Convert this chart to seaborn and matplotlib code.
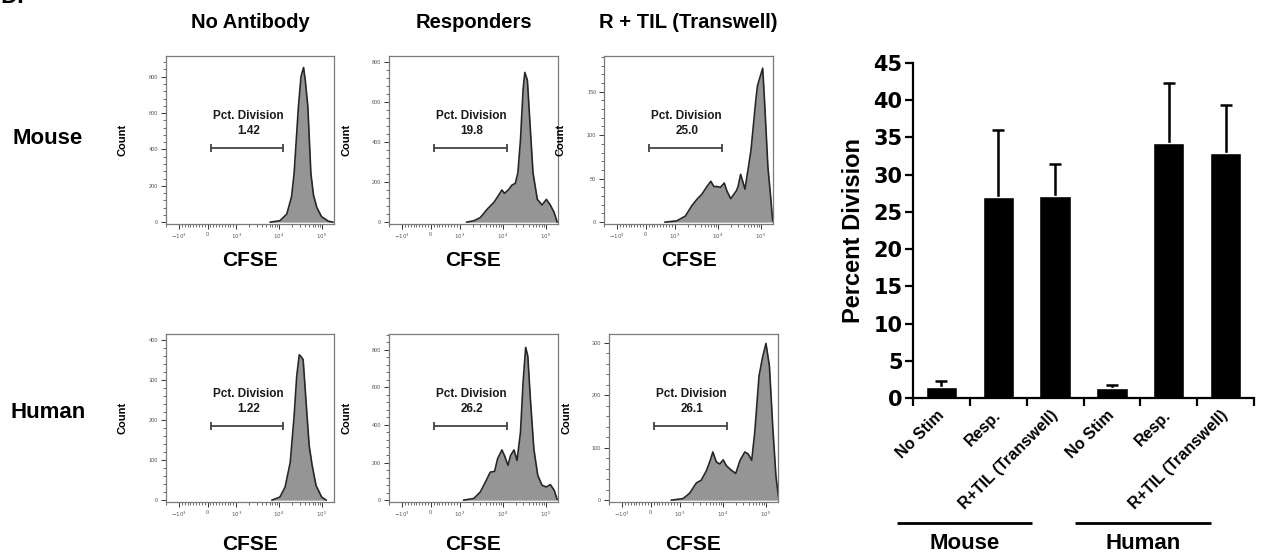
import numpy as np
import pandas as pd
import seaborn as sns
import matplotlib.pyplot as plt
import matplotlib.transforms as mtransforms
from matplotlib.ticker import FixedLocator, AutoMinorLocator, NullFormatter

sns.set_theme(style="white")
plt.rcParams['font.family'] = ['Liberation Sans', 'DejaVu Sans']
plt.rcParams.update({'text.color': 'black', 'axes.labelcolor': 'black',
                     'xtick.color': 'black', 'ytick.color': 'black'})

W, H = 1263, 554

# CFSE histograms: log10(CFSE) positions and event counts
mouse_noab_log = [3.79, 4.02, 4.18, 4.29, 4.35, 4.45, 4.51, 4.57, 4.61, 4.67, 4.74, 4.80, 4.88, 4.99, 5.15, 5.26]
mouse_noab_cnt = [0, 8, 45, 140, 270, 635, 800, 851, 780, 635, 270, 150, 80, 30, 5, 0]

mouse_resp_log = [3.16, 3.33, 3.48, 3.64, 3.79, 3.87, 3.98, 4.04, 4.14, 4.21, 4.29, 4.35, 4.41, 4.47,
                  4.51, 4.57, 4.63, 4.70, 4.80, 4.91, 5.01, 5.10, 5.19, 5.26]
mouse_resp_cnt = [0, 7, 23, 65, 98, 123, 161, 144, 164, 185, 194, 247, 412, 661,
                  749, 710, 495, 247, 114, 86, 114, 86, 48, 0]

mouse_tw_log = [2.82, 3.05, 3.25, 3.40, 3.53, 3.63, 3.75, 3.84, 3.91, 3.98, 4.06, 4.15, 4.21, 4.30,
                4.43, 4.47, 4.53, 4.63, 4.69, 4.77, 4.88, 4.92, 5.04, 5.09, 5.16, 5.23, 5.27]
mouse_tw_cnt = [0, 1.5, 7, 19, 27, 32, 41, 47, 41, 41, 40, 45, 36, 27,
                36, 41, 55, 38, 57, 83, 140, 157, 177, 133, 64, 26, 1.5]

human_noab_log = [3.83, 4.02, 4.14, 4.26, 4.35, 4.41, 4.47, 4.52, 4.56, 4.64, 4.70, 4.77, 4.86, 4.99, 5.10]
human_noab_cnt = [0, 8, 33, 95, 211, 310, 364, 358, 352, 228, 137, 87, 37, 8, 0]

human_resp_log = [3.09, 3.33, 3.48, 3.60, 3.71, 3.81, 3.88, 3.98, 4.04, 4.12, 4.18, 4.26, 4.33, 4.41,
                  4.47, 4.53, 4.58, 4.64, 4.72, 4.81, 4.91, 5.01, 5.10, 5.19, 5.26]
human_resp_cnt = [0, 9, 44, 97, 149, 153, 220, 267, 237, 185, 237, 267, 211, 360,
                  624, 812, 765, 536, 272, 132, 79, 70, 83, 53, 4]

human_tw_log = [2.85, 3.08, 3.23, 3.39, 3.50, 3.62, 3.71, 3.77, 3.85, 3.93, 4.01, 4.08, 4.20, 4.30,
                4.40, 4.51, 4.59, 4.67, 4.74, 4.84, 4.92, 5.00, 5.08, 5.16, 5.23, 5.29]
human_tw_cnt = [0, 3, 13, 33, 38, 56, 76, 92, 73, 69, 77, 66, 57, 51,
                76, 92, 88, 76, 129, 237, 272, 299, 256, 136, 47, 6]

pct_division = ["1.42", "19.8", "25.0", "1.22", "26.2", "26.1"]
col_titles = ["No Antibody", "Responders", "R + TIL (Transwell)"]
row_titles = ["Mouse", "Human"]
hist_ymax = [914, 831, 191, 416, 883, 317]
hist_ystep = [200, 200, 50, 100, 200, 100]
gate_range = [120, 12600]

# bar chart
bar_keys = ["m_nostim", "m_resp", "m_tw", "h_nostim", "h_resp", "h_tw"]
bar_labels = ["No Stim", "Resp.", "R+TIL (Transwell)", "No Stim", "Resp.", "R+TIL (Transwell)"]
bar_mean = [1.5, 27.0, 27.1, 1.3, 34.3, 32.9]
bar_err = [0.8, 9.0, 4.3, 0.5, 8.0, 6.5]
group_names = ["Mouse", "Human"]

hist_data = [(mouse_noab_log, mouse_noab_cnt), (mouse_resp_log, mouse_resp_cnt), (mouse_tw_log, mouse_tw_cnt),
             (human_noab_log, human_noab_cnt), (human_resp_log, human_resp_cnt), (human_tw_log, human_tw_cnt)]

# panel boxes in pixels (x0, y0, x1, y1)
boxes = [(166, 56, 334, 224), (389, 56, 558, 224), (604, 56, 773, 224),
         (166, 334, 334, 502), (389, 334, 558, 502), (609, 334, 778, 502)]


def frect(x0, y0, x1, y1):
    return [x0 / W, 1 - y1 / H, (x1 - x0) / W, (y1 - y0) / H]


fig = plt.figure(figsize=(W / 100, H / 100), dpi=100)

minor_x = [s * k * 100 for s in (-1, 1) for k in range(1, 10)] + \
          [k * 10 ** d for d in (3, 4) for k in range(2, 10)] + [-2000]

for i, ((lg, cnt), b) in enumerate(zip(hist_data, boxes)):
    ax = fig.add_axes(frect(*b))
    x = 10 ** np.array(lg)
    ax.set_xscale('symlog', linthresh=1000, linscale=0.6)
    ax.fill_between(x, cnt, color='#959595', lw=0)
    sns.lineplot(x=x, y=cnt, sort=False, estimator=None, color='#262626', lw=1.2, ax=ax)
    ax.set_xlim(-2000, 1.9e5)
    ymax = hist_ymax[i]
    ax.set_ylim(-0.011 * ymax, ymax)
    ax.set_xticks([-1000, 0, 1000, 10000, 100000])
    ax.set_xticklabels(['$-10^3$', '0', '$10^3$', '$10^4$', '$10^5$'])
    ax.xaxis.set_minor_locator(FixedLocator(minor_x))
    ax.xaxis.set_minor_formatter(NullFormatter())
    ax.set_yticks(np.arange(0, ymax, hist_ystep[i]))
    ax.yaxis.set_minor_locator(AutoMinorLocator(5))
    ax.tick_params(which='major', length=3.5, width=0.7, color='#333', labelsize=4, labelcolor='#555', pad=2,
                   bottom=True, left=True, direction='out')
    ax.tick_params(which='minor', length=2, width=0.5, color='#333', bottom=True, left=True, direction='out')
    for s in ax.spines.values():
        s.set_color('#7a7a7a')
        s.set_linewidth(0.9)
    ax.set_xlabel('')
    ax.set_ylabel('')
    # gate
    tr = mtransforms.blended_transform_factory(ax.transData, ax.transAxes)
    ax.plot(gate_range, [0.455, 0.455], transform=tr, color='#444', lw=1.3, marker='|', ms=6, mew=1.3)
    cx = (b[0] + b[2]) / 2
    ax.text(0.49, 0.64, 'Pct. Division', transform=ax.transAxes, ha='center', va='center',
            fontsize=8.5, fontweight='bold', color='#1a1a1a')
    ax.text(0.49, 0.555, pct_division[i], transform=ax.transAxes, ha='center', va='center',
            fontsize=8.5, fontweight='bold', color='#1a1a1a')
    # Count and CFSE labels
    fig.text((b[0] - 43) / W, 1 - ((b[1] + b[3]) / 2) / H, 'Count', rotation=90, ha='center', va='center',
             fontsize=8, fontweight='bold')
    cfse_y = 260 if i < 3 else 544
    fig.text(cx / W, 1 - cfse_y / H, 'CFSE', ha='center', va='center', fontsize=15, fontweight='bold')
    if i < 3:
        fig.text(cx / W, 1 - 22 / H, col_titles[i], ha='center', va='center', fontsize=14.5, fontweight='bold')

fig.text(48 / W, 1 - 138 / H, row_titles[0], ha='center', va='center', fontsize=16, fontweight='bold')
fig.text(48 / W, 1 - 413 / H, row_titles[1], ha='center', va='center', fontsize=16, fontweight='bold')
fig.text(0.0, 1 - 3 / H, 'D.', ha='left', va='baseline', fontsize=17, fontweight='bold')

# bar chart
axb = fig.add_axes(frect(913, 63, 1254, 398))
df = pd.DataFrame({'key': bar_keys, 'percent': bar_mean})
sns.barplot(data=df, x='key', y='percent', order=bar_keys, color='black', saturation=1,
            width=0.55, errorbar=None, ax=axb, zorder=2)
# error bars drawn behind the bars so only the upper half shows
axb.errorbar(np.arange(len(bar_keys)), bar_mean, yerr=[bar_mean, bar_err], fmt='none',
             ecolor='black', elinewidth=1.8, capsize=4, capthick=1.8, zorder=1)
axb.set_xlim(-0.5, 5.5)
axb.set_ylim(0, 45)
axb.set_yticks(np.arange(0, 46, 5))
axb.set_yticklabels([str(v) for v in range(0, 46, 5)], fontsize=15, fontweight='bold', family='DejaVu Sans')
axb.set_xticks(np.arange(-0.5, 6, 1))
axb.set_xticklabels([])
axb.set_xticks(np.arange(len(bar_keys)), minor=True)
axb.set_xticklabels(bar_labels, minor=True, rotation=45, ha='right', va='center', rotation_mode='anchor',
                    fontsize=11.5, fontweight='bold')
axb.tick_params(which='major', length=5.5, width=1.6, color='black', bottom=True, left=True,
                direction='out', pad=2)
axb.tick_params(axis='x', which='minor', length=0, pad=11, bottom=True)
axb.set_xlabel('')
axb.set_ylabel('Percent Division', fontsize=17, fontweight='bold', labelpad=6)
for side in ['top', 'right']:
    axb.spines[side].set_visible(False)
for side in ['left', 'bottom']:
    axb.spines[side].set_color('black')
    axb.spines[side].set_linewidth(1.6)
    axb.spines[side].set_zorder(3)

trb = mtransforms.blended_transform_factory(axb.transData, axb.transAxes)
for (x0, x1), name in zip([(-0.78, 1.59), (2.35, 4.74)], group_names):
    axb.plot([x0, x1], [-0.373, -0.373], transform=trb, color='black', lw=2, clip_on=False,
             solid_capstyle='butt')
    axb.text((x0 + x1) / 2, -0.433, name, transform=trb, ha='center', va='center',
             fontsize=16, fontweight='bold')

fig.savefig('out.png', dpi=100)
